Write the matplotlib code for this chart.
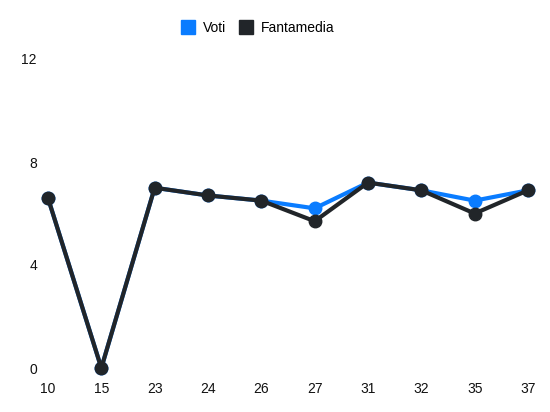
import matplotlib
matplotlib.use("Agg")
import matplotlib.pyplot as plt
from matplotlib.lines import Line2D

plt.rcParams['font.family'] = ['Liberation Sans', 'DejaVu Sans']

giornate = ["10", "15", "23", "24", "26", "27", "31", "32", "35", "37"]
voti = [6.6, 0, 7.0, 6.7, 6.5, 6.2, 7.2, 6.9, 6.5, 6.9]
fantamedia = [6.6, 0, 7.0, 6.7, 6.5, 5.7, 7.2, 6.9, 6.0, 6.9]
y_ticks = [0, 4, 8, 12]

blue = "#0a7cff"
dark = "#212529"

fig = plt.figure(figsize=(5.5, 4.12), dpi=100)
ax = fig.add_axes([48/550, 44/412, 480/550, 309/412])

x = list(range(len(giornate)))
ax.plot(x, voti, color=blue, lw=3, marker='o', ms=9, zorder=2, solid_joinstyle='round', clip_on=False)
ax.plot(x, fantamedia, color=dark, lw=3, marker='o', ms=9, zorder=3, solid_joinstyle='round', clip_on=False)

ax.set_xlim(0, len(giornate) - 1)
ax.set_ylim(0, 12)
ax.set_xticks(x)
ax.set_xticklabels(giornate)
ax.set_yticks(y_ticks)
ax.set_yticklabels([str(t) for t in y_ticks])
ax.tick_params(axis='both', length=0, labelsize=10, colors='#111111')
ax.tick_params(axis='x', pad=10)
ax.tick_params(axis='y', pad=8)
for s in ax.spines.values():
    s.set_visible(False)
ax.patch.set_alpha(0)

handles = [
    Line2D([], [], color=blue, marker='s', ls='none', ms=10),
    Line2D([], [], color=dark, marker='s', ls='none', ms=10),
]
fig.legend(handles, ["Voti", "Fantamedia"], loc='center', bbox_to_anchor=(258/550, 1 - 28/412),
           ncol=2, frameon=False, fontsize=10, handletextpad=0.6, columnspacing=0.9,
           handlelength=1.0)

fig.savefig("out.png", dpi=100)
